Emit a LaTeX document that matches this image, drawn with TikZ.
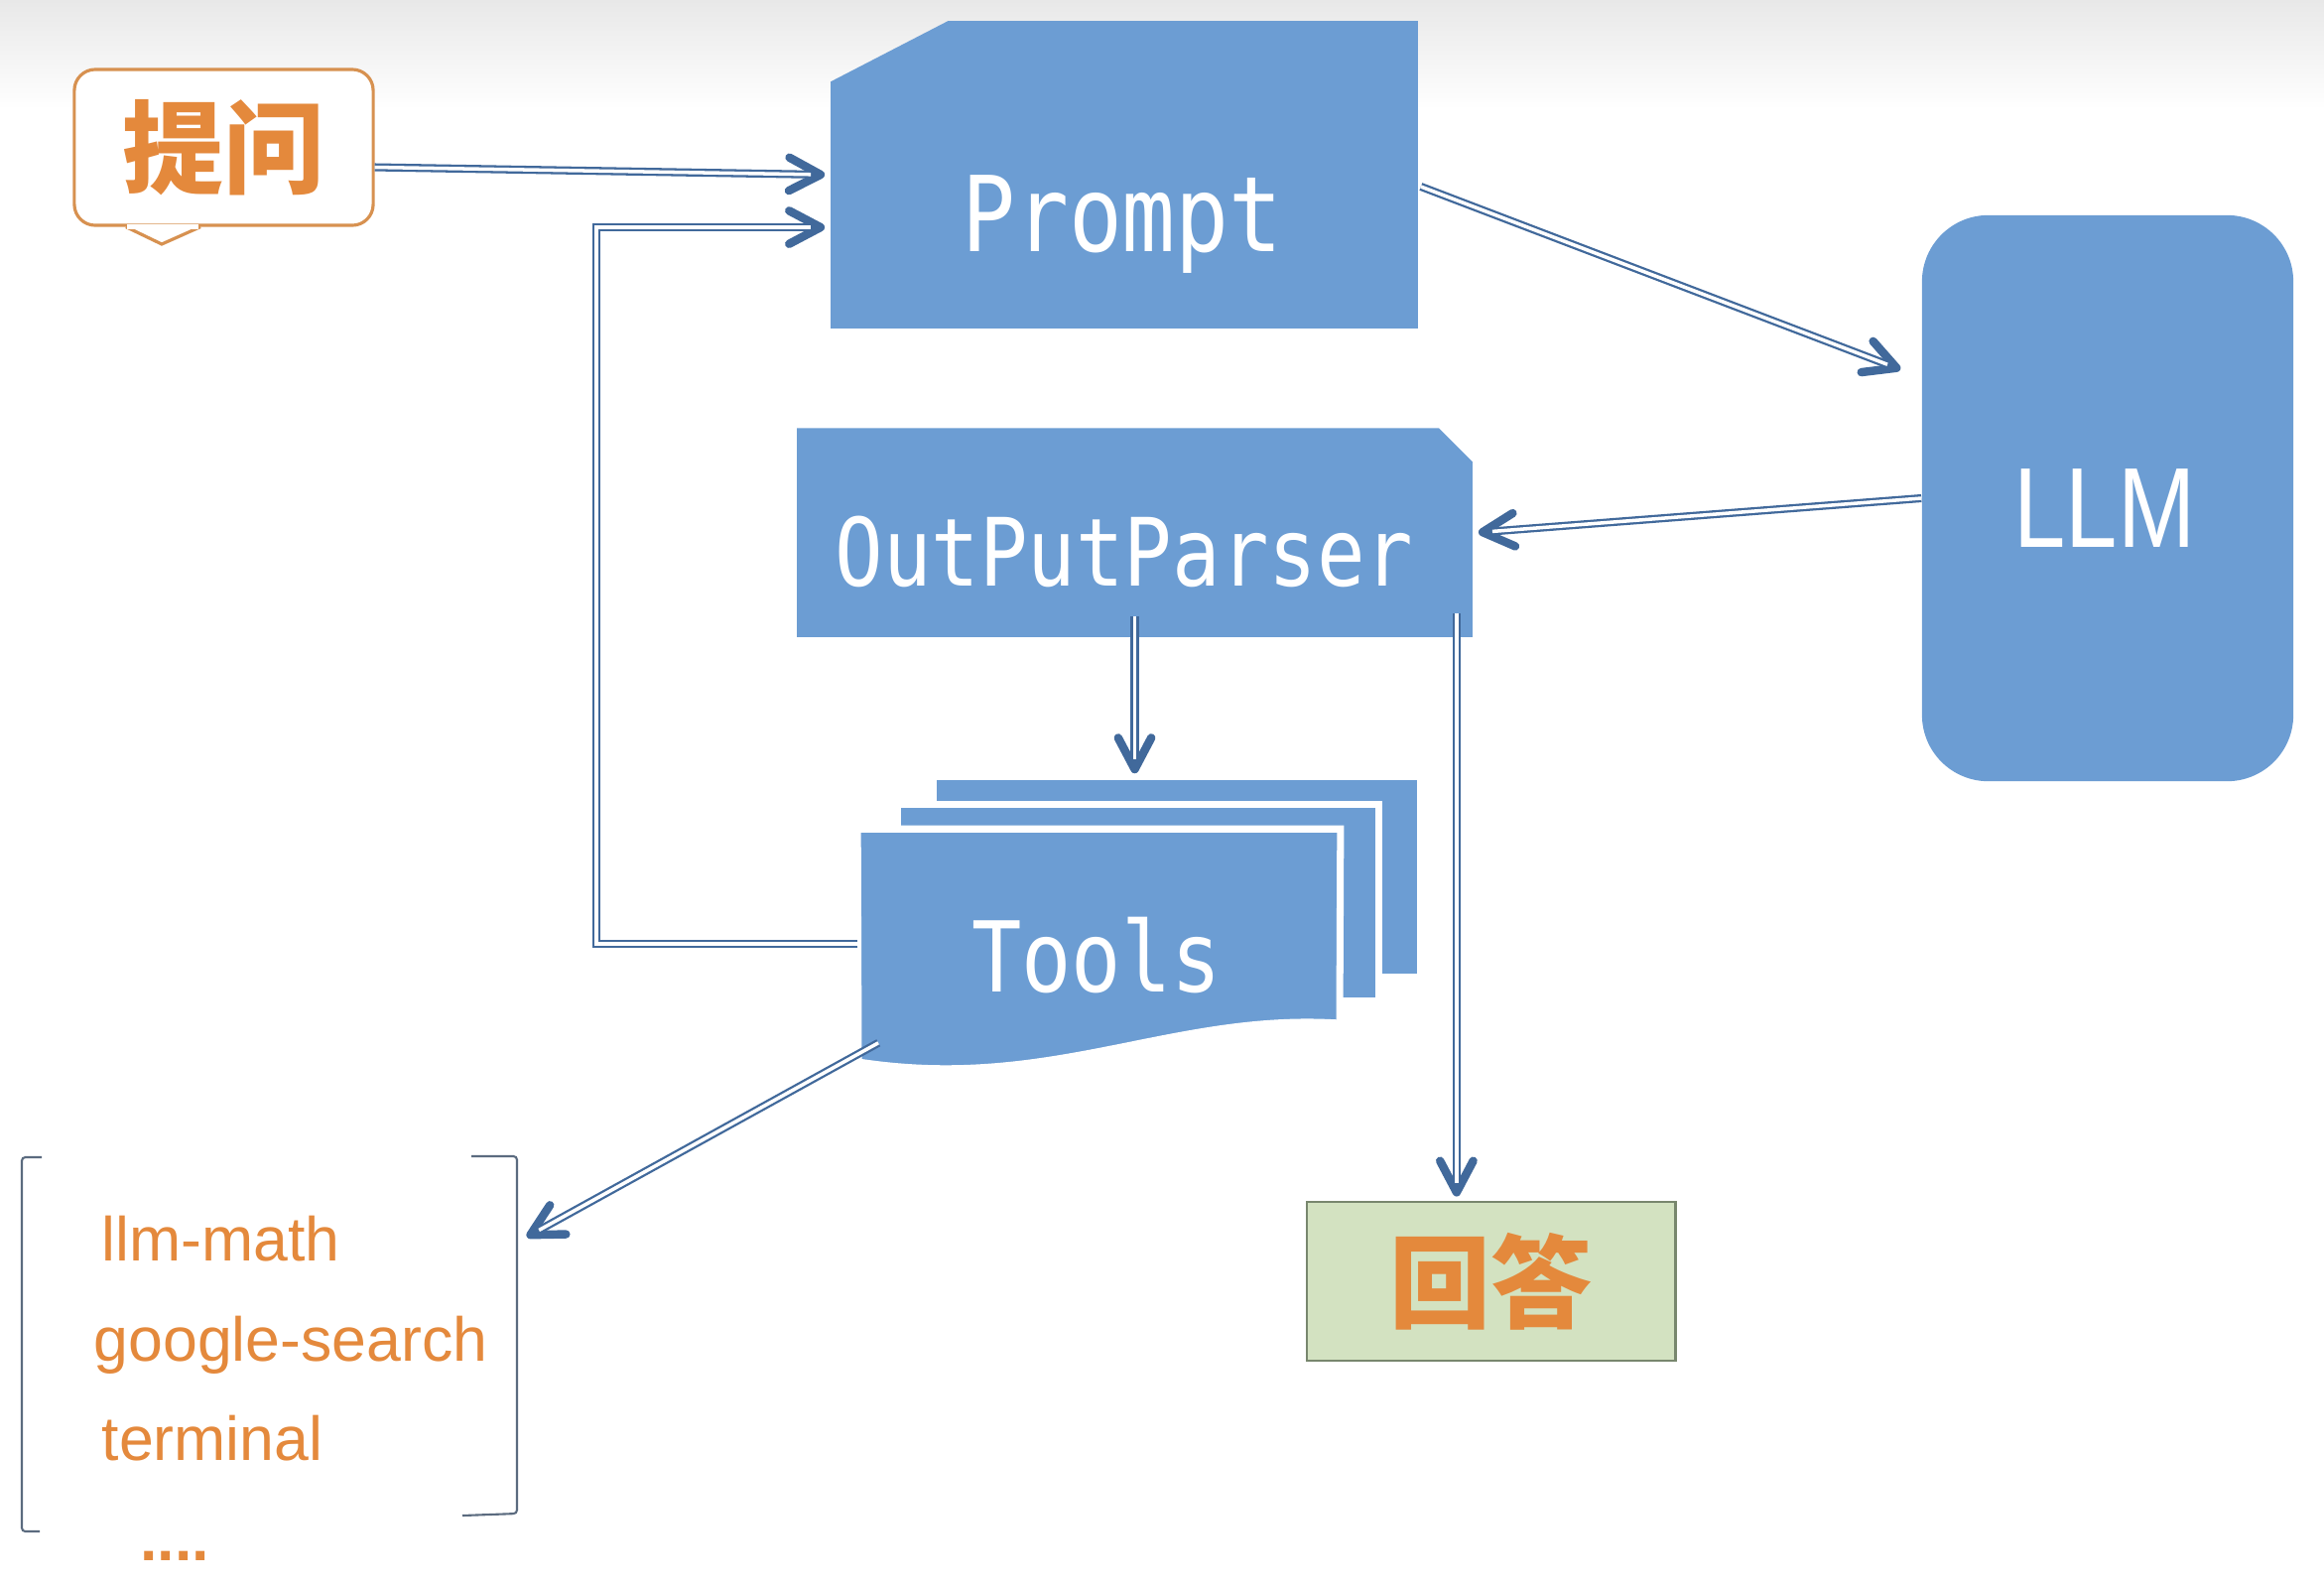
\documentclass[tikz,border=0pt]{standalone}
\usepackage{fontspec}
\setmainfont{Liberation Sans}
\newfontfamily\cjkfont{Noto Sans CJK SC}
\newfontfamily\boxfont[FakeStretch=0.85]{DejaVu Sans Mono}
\newfontfamily\llmfont[FakeStretch=0.82]{Liberation Sans}
\usetikzlibrary{arrows.meta}

\definecolor{boxblue}{HTML}{6C9DD3}
\definecolor{arrowblue}{HTML}{41699B}
\definecolor{askorange}{HTML}{E4893C}
\definecolor{askborder}{HTML}{D79150}
\definecolor{answergreen}{HTML}{D3E2C1}
\definecolor{answerborder}{HTML}{78876E}
\definecolor{bracketgray}{HTML}{5B6B7F}

\begin{document}
\begin{tikzpicture}[x=0.01cm, y=-0.01cm,
  link/.style={draw=arrowblue, line width=2.3pt,
    -{Straight Barb[length=9pt, width=9.5pt, line width=2.4pt, round]},
    postaction={draw=white, line width=1pt, arrows=-, shorten >=4pt}},
  frame/.style={rectangle, inner sep=0pt},
  boxtext/.style={text=white, font=\boxfont\fontsize{28pt}{30pt}\selectfont},
  cjktext/.style={text=askorange, font=\cjkfont\bfseries\fontsize{29pt}{32pt}\selectfont},
  listtext/.style={text=askorange, anchor=base west, inner sep=0pt, font=\fontsize{17.8pt}{20pt}\selectfont}]

  % Fix the page and shade its top edge
  \useasboundingbox (0,0) rectangle (2342,1596);
  \shade[top color=black!9, bottom color=white] (0,0) rectangle (2342,110);

  % Define the frames of the boxes
  \node[frame, minimum width=5.90cm, minimum height=3.08cm] (prompt) at (1133,176) {};
  \node[frame, minimum width=6.79cm, minimum height=2.09cm] (parser) at (1143.5,536.5) {};
  \node[frame, minimum width=4.85cm, minimum height=2.46cm] (tools) at (1107.5,959) {};
  \node[frame, minimum width=4.99cm, minimum height=3.78cm] (toollist) at (271.5,1354) {};

  % Draw the question callout
  \node[frame, draw=askborder, line width=0.9pt, fill=white, rounded corners=6pt,
        minimum width=3.01cm, minimum height=1.57cm] (ask) at (225.5,148.5) {};
  \filldraw[draw=askborder, line width=0.9pt, fill=white]
    ([xshift=-0.985cm]ask.south) -- (163,246) -- ([xshift=-0.235cm]ask.south);
  \draw[white, line width=1.4pt] ([xshift=-0.97cm]ask.south) -- ([xshift=-0.25cm]ask.south);
  \node[cjktext] (asktext) at (225,149) {提问};

  % Draw the prompt box with its cut corner
  \fill[boxblue] (prompt.south west) -- ([yshift=-0.61cm]prompt.north west)
    -- ([xshift=1.18cm]prompt.north west) -- (prompt.north east) -- (prompt.south east) -- cycle;
  \node[boxtext, font=\boxfont\fontsize{30pt}{32pt}\selectfont] (prompttext) at (1131,226) {Prompt};

  % Draw the LLM box
  \node[frame, fill=boxblue, rounded corners=19pt, minimum width=3.74cm, minimum height=5.70cm] (llm) at (2124,502) {};
  \node[text=white, font=\llmfont\fontsize{32.6pt}{34pt}\selectfont] (llmtext) at (2121,512) {LLM};

  % Draw the output parser box
  \fill[boxblue] (parser.south west) -- (parser.north west) -- ([xshift=-0.34cm]parser.north east)
    -- ([yshift=-0.34cm]parser.north east) -- (parser.south east) -- cycle;
  \node[boxtext, font=\boxfont\fontsize{27pt}{29pt}\selectfont] (parsertext) at (1133,556) {OutPutParser};

  % Draw the stack of tools
  \node[frame, fill=boxblue, minimum width=4.84cm, minimum height=1.95cm] (toolsback) at (1186,883.5) {};
  \node[frame, fill=boxblue, draw=white, line width=2pt, minimum width=4.84cm, minimum height=1.97cm] (toolsmid) at (1147,909.5) {};
  \filldraw[fill=boxblue, draw=white, line width=2pt] (tools.north west) -- (tools.north east)
    -- (1350,1031) .. controls (1180,1020) and (1060,1100) .. (865,1070) -- cycle;
  \node[boxtext] (toolstext) at (1105,963) {Tools};

  % Draw the answer box
  \node[frame, fill=answergreen, draw=answerborder, line width=0.8pt, minimum width=3.71cm,
        minimum height=1.60cm, cjktext] (answer) at (1502.5,1291) {回答};

  % Draw the list of tools with its brackets
  \draw[bracketgray, line width=0.6pt, rounded corners=1pt] (42,1166) -- (22,1166) -- (22,1543) -- (40,1543);
  \draw[bracketgray, line width=0.6pt, rounded corners=1pt] (475,1165) -- (521,1165) -- (521,1525) -- (466,1527);
  \node[listtext] (llmmath) at (102,1270) {llm-math};
  \node[listtext] (google) at (94,1371) {google-search};
  \node[listtext] (terminal) at (102,1471) {terminal};
  \node[listtext, anchor=base, font=\bfseries\fontsize{17.8pt}{20pt}\selectfont] (more) at (176,1572) {....};

  % Draw the connectors
  \coordinate (answerin) at ([xshift=-0.16cm,yshift=0.24cm]parser.south east);
  \draw[link] ([yshift=-0.2cm]ask.east) -- ([xshift=-0.06cm]prompt.west);
  \draw[link] ([yshift=0.08cm]tools.west) -- ++(-263,0) |- ([xshift=-0.06cm,yshift=-0.53cm]prompt.west);
  \draw[link] ([xshift=0.03cm,yshift=-0.12cm]prompt.east) -- ([xshift=-0.21cm,yshift=-1.56cm]llm.north west);
  \draw[link] (llm.west) -- ([xshift=0.06cm]parser.east);
  \draw[link] ([yshift=0.21cm]parser.south) -- ([yshift=0.06cm]parser.south |- toolsback.north);
  \draw[link] (answerin) -- ([yshift=0.04cm]answerin |- answer.north);
  \draw[link] ([xshift=0.21cm,yshift=0.32cm]tools.south west) -- ([xshift=0.09cm,yshift=-0.82cm]toollist.north east);

\end{tikzpicture}
\end{document}
